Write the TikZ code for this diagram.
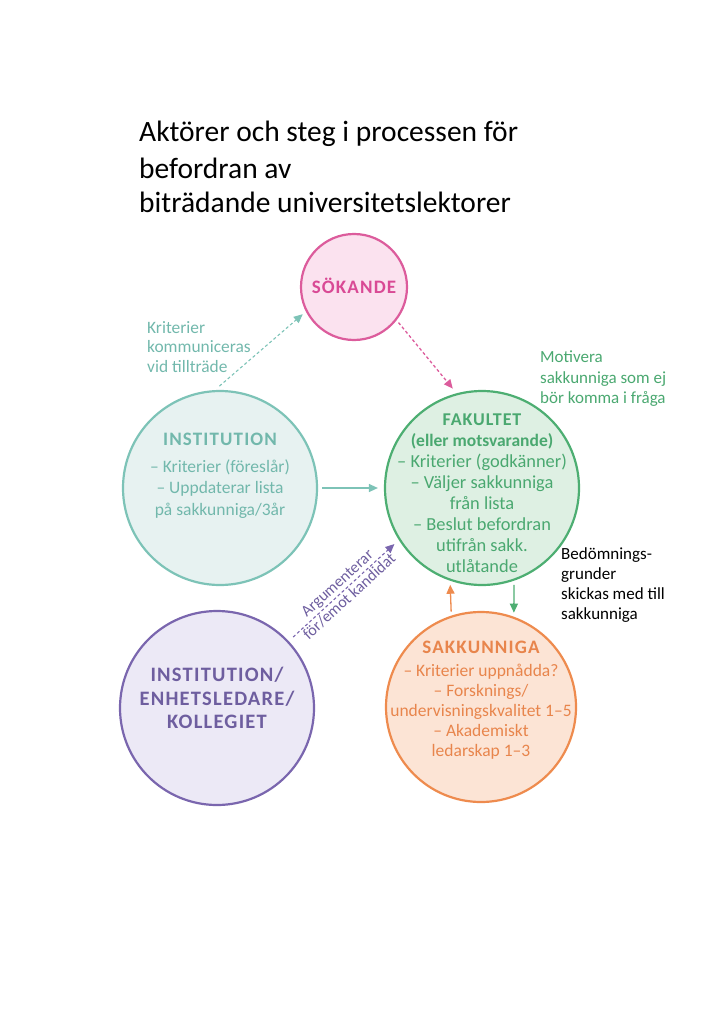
\documentclass[tikz,border=0pt]{standalone}
\usepackage{fontspec}
\setmainfont{Carlito}
\usetikzlibrary{arrows.meta}

\definecolor{tealline}{HTML}{7DC3B7}
\definecolor{tealfill}{HTML}{E7F2F1}
\definecolor{tealtext}{HTML}{72B8AC}
\definecolor{pinkline}{HTML}{DC5C9C}
\definecolor{pinkfill}{HTML}{FBE2EF}
\definecolor{pinktext}{HTML}{D94A95}
\definecolor{greenline}{HTML}{4DAE72}
\definecolor{greenfill}{HTML}{DEF0E3}
\definecolor{greentext}{HTML}{4AA870}
\definecolor{purpline}{HTML}{7A66AE}
\definecolor{purpfill}{HTML}{ECE9F6}
\definecolor{purptext}{HTML}{6E5E9F}
\definecolor{orangeline}{HTML}{EE8B4E}
\definecolor{orangefill}{HTML}{FCE4D5}
\definecolor{orangetext}{HTML}{E8854C}

\newcommand{\headtxt}[2][19]{{\fontsize{#1}{#1}\selectfont\bfseries\addfontfeature{LetterSpace=6}#2}}

\begin{document}
\begin{tikzpicture}[
    x=1pt, y=-1pt,
    actor/.style={circle, line width=2.2pt, inner sep=0pt},
    actortext/.style={align=center, inner sep=0pt, font=\fontsize{17.5}{20.5}\selectfont},
    note/.style={anchor=north west, align=left, inner sep=0pt, font=\fontsize{17}{20.3}\selectfont},
    arrow/.style={->, >={Triangle[length=9pt, width=8pt]}, line width=1.3pt},
    dasharrow/.style={arrow, dash pattern=on 3pt off 2.5pt}
  ]
    \useasboundingbox (0,0) rectangle (720,1019);

    \node[anchor=north west, align=left, inner sep=0pt, font=\fontsize{29.5}{34}\selectfont] (title) at (139,121)
      {Aktörer och steg i processen för\\[3pt]befordran av\\biträdande universitetslektorer};

    \node[actor, draw=pinkline, fill=pinkfill, minimum size=106pt] (sok) at (354,287) {};
    \node[actor, draw=tealline, fill=tealfill, minimum size=194pt] (inst) at (220,488) {};
    \node[actor, draw=greenline, fill=greenfill, minimum size=194pt] (fak) at (482,488) {};
    \node[actor, draw=purpline, fill=purpfill, minimum size=194pt] (kol) at (217,708) {};
    \node[actor, draw=orangeline, fill=orangefill, minimum size=190pt] (sak) at (481,707) {};

    \node[actortext, text=pinktext] (soktxt) at (354,286) {\headtxt{SÖKANDE}};
    \node[actortext, text=tealtext, font=\fontsize{17.5}{21.5}\selectfont] (insttxt) at (220,476)
      {\headtxt{INSTITUTION}\\[5pt]– Kriterier (föreslår)\\– Uppdaterar lista\\på sakkunniga/3år};
    \node[actortext, text=greentext, font=\fontsize{18.4}{21}\selectfont] (faktxt) at (482,493)
      {{\fontsize{18}{18}\selectfont\bfseries\addfontfeature{LetterSpace=5}FAKULTET}\\{\fontsize{17.5}{17.5}\selectfont\bfseries(eller motsvarande)}\\– Kriterier (godkänner)\\– Väljer sakkunniga\\från lista\\– Beslut befordran\\utifrån sakk.\\utlåtande};
    \node[actortext, text=purptext, font=\fontsize{20.5}{23.5}\selectfont] (koltxt) at (217,698)
      {\headtxt[20.5]{INSTITUTION/}\\\headtxt[20.5]{ENHETSLEDARE/}\\\headtxt[20.5]{KOLLEGIET}};
    \node[actortext, text=orangetext, font=\fontsize{17.5}{20}\selectfont] (saktxt) at (481,700)
      {\headtxt{SAKKUNNIGA}\\[3pt]– Kriterier uppnådda?\\– Forsknings/\\undervisningskvalitet 1–5\\– Akademiskt\\ledarskap 1–3};

    \node[note, text=tealtext, font=\fontsize{17.4}{19.5}\selectfont] (kritlbl) at (147,321) {Kriterier\\kommuniceras\\vid tillträde};
    \node[note, text=greentext, font=\fontsize{17}{20.5}\selectfont] (motlbl) at (540,351) {Motivera\\sakkunniga som ej\\bör komma i fråga};
    \node[note] (bedlbl) at (561,547) {Bedömnings-\\grunder\\skickas med till\\sakkunniga};

    \draw[dasharrow, tealline, line width=1.1pt, shorten <=6pt, shorten >=4pt] (inst.93) -- (sok.207);
    \draw[dasharrow, pinkline, shorten <=3pt, shorten >=6pt] (sok.-38) -- (fak.105);
    \draw[arrow, tealline, shorten <=4pt, shorten >=6pt] (inst) -- (fak);
    \draw[dasharrow, purpline, line width=1.1pt, shorten <=6pt, shorten >=6pt] (kol.43) -- (fak.212)
      node[midway, above, sloped, text=purptext, font=\fontsize{16}{16}\selectfont, inner sep=1.5pt] {Argumenterar}
      node[midway, below, sloped, text=purptext, font=\fontsize{16}{16}\selectfont, inner sep=1.5pt] {för/emot kandidat};
    \draw[arrow, orangeline, shorten <=4pt, shorten >=4pt] (sak.108) -- (fak.251);
    \draw[arrow, greenline, shorten <=4pt, shorten >=4pt] (fak.289) -- (sak.70);
  \end{tikzpicture}
\end{document}
